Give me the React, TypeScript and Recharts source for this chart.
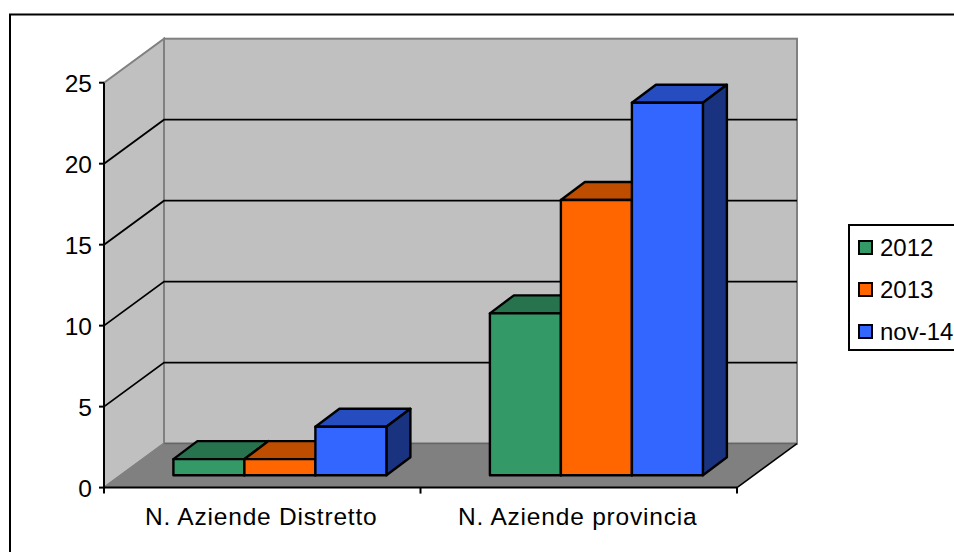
import { BarChart, Bar, XAxis, YAxis, CartesianGrid, Legend } from 'recharts';

const CATEGORIES = ['N. Aziende Distretto', 'N. Aziende provincia'];
const VALUES_2012 = [1, 10];
const VALUES_2013 = [1, 17];
const VALUES_NOV14 = [3, 23];
const Y_TICKS = [0, 5, 10, 15, 20, 25];

const chartData = CATEGORIES.map((name, i) => ({
  name,
  a2012: VALUES_2012[i],
  a2013: VALUES_2013[i],
  nov14: VALUES_NOV14[i],
}));

// ── Layout of the fake 3D box ────────────────────────────────────────────
const W = 954;
const H = 552;
const LEFT = 104;
const RIGHT = 737;
const TOP = 82.7;
const BOTTOM = 487.6;
const DEPTH_X = 60;
const DEPTH_Y = -44;
// bars stand a bit inside the floor, and have their own depth
const BAR_DX = 17.4;
const BAR_DY = -12.3;
const BAR_DEPTH_X = 24;
const BAR_DEPTH_Y = -18;
const FONT = '"Liberation Sans", Arial, sans-serif';

function shade(hex: string, k: number) {
  const n = parseInt(hex.slice(1), 16);
  const c = [(n >> 16) & 255, (n >> 8) & 255, n & 255].map(v => Math.round(v * k));
  return `rgb(${c[0]},${c[1]},${c[2]})`;
}

function Bar3D(props: any) {
  const { x, y, width, height, fill } = props;
  const l = x + BAR_DX;
  const r = l + width;
  const t = y + BAR_DY;
  const b = t + height;
  const common = { stroke: '#000', strokeWidth: 2.4, strokeLinejoin: 'round' as const };
  return (
    <g>
      <polygon
        points={`${l},${t} ${r},${t} ${r + BAR_DEPTH_X},${t + BAR_DEPTH_Y} ${l + BAR_DEPTH_X},${t + BAR_DEPTH_Y}`}
        fill={shade(fill, 0.75)}
        {...common}
      />
      <polygon
        points={`${r},${t} ${r + BAR_DEPTH_X},${t + BAR_DEPTH_Y} ${r + BAR_DEPTH_X},${b + BAR_DEPTH_Y} ${r},${b}`}
        fill={shade(fill, 0.5)}
        {...common}
      />
      <rect x={l} y={t} width={width} height={height} fill={fill} {...common} />
    </g>
  );
}

// Frame, walls and floor: a plain svg behind the chart, the grid draws on top of it
function Box() {
  const backL = LEFT + DEPTH_X;
  const backR = RIGHT + DEPTH_X;
  const backT = TOP + DEPTH_Y;
  const backB = BOTTOM + DEPTH_Y;
  return (
    <svg width={W} height={H} style={{ position: 'absolute', left: 0, top: 0 }}>
      <rect x={10} y={14.5} width={W + 40} height={H + 40} fill="#fff" stroke="#000" strokeWidth={2} />
      <rect x={backL} y={backT} width={RIGHT - LEFT} height={BOTTOM - TOP} fill="#C0C0C0" stroke="#808080" strokeWidth={2} />
      <polygon
        points={`${LEFT},${TOP} ${backL},${backT} ${backL},${backB} ${LEFT},${BOTTOM}`}
        fill="#C0C0C0"
        stroke="#808080"
        strokeWidth={2}
      />
      <polygon points={`${LEFT},${BOTTOM} ${backL},${backB} ${backR},${backB} ${RIGHT},${BOTTOM}`} fill="#808080" />
      <line x1={backL} y1={backB} x2={backR} y2={backB} stroke="#666" strokeWidth={1.5} />
      <line x1={LEFT} y1={BOTTOM} x2={backL} y2={backB} stroke="#808080" strokeWidth={1.5} />
      <line x1={RIGHT} y1={BOTTOM} x2={backR} y2={backB} stroke="#000" strokeWidth={1.5} />
    </svg>
  );
}

// Each grid line runs along the side wall, then across the back wall
function GridLine(props: any) {
  const { y1 } = props;
  if (Math.abs(y1 - TOP) < 1 || Math.abs(y1 - BOTTOM) < 1) return <g key={props.key} />;
  const bx = LEFT + DEPTH_X;
  const by = y1 + DEPTH_Y;
  return (
    <polyline
      key={props.key}
      points={`${LEFT},${y1} ${bx},${by} ${RIGHT + DEPTH_X},${by}`}
      fill="none"
      stroke="#000"
      strokeWidth={1.8}
    />
  );
}

// Tick marks sit on the band edges, not under the labels
function CategoryTick(props: any) {
  const { x, index, payload } = props;
  const band = (RIGHT - LEFT) / CATEGORIES.length;
  const left = x - band / 2;
  return (
    <g>
      <line x1={left} y1={BOTTOM} x2={left} y2={BOTTOM + 6} stroke="#000" strokeWidth={2} />
      {index === CATEGORIES.length - 1 && (
        <line x1={x + band / 2} y1={BOTTOM} x2={x + band / 2} y2={BOTTOM + 6} stroke="#000" strokeWidth={2} />
      )}
      <text x={x - 1} y={525} textAnchor="middle" fontFamily={FONT} fontSize={24.5} letterSpacing={0.8} fill="#000">
        {payload.value}
      </text>
    </g>
  );
}

function LegendBox({ payload }: any) {
  return (
    <div
      style={{
        width: 130,
        height: 127,
        boxSizing: 'border-box',
        border: '2px solid #000',
        background: '#fff',
        position: 'relative',
        fontFamily: FONT,
        fontSize: 24,
        color: '#000',
      }}
    >
      {(payload || []).map((p: any, i: number) => (
        <div key={p.value} style={{ position: 'absolute', left: 8, top: 14 + i * 42, height: 15, display: 'flex', alignItems: 'center' }}>
          <span style={{ width: 15, height: 15, boxSizing: 'border-box', border: '2px solid #000', background: p.color, marginRight: 7, flex: 'none' }} />
          <span style={{ lineHeight: '15px', whiteSpace: 'nowrap' }}>{p.value}</span>
        </div>
      ))}
    </div>
  );
}

export default function App() {
  return (
    <div style={{ position: 'absolute', left: 0, top: 0, width: W, height: H, overflow: 'hidden', background: '#fff' }}>
      <Box />
      <BarChart
        width={W}
        height={H}
        data={chartData}
        margin={{ top: TOP, right: W - RIGHT, bottom: 0, left: 0 }}
        barSize={71}
        barGap={0}
      >
        <CartesianGrid vertical={false} horizontal={GridLine as any} />
        <XAxis
          dataKey="name"
          height={H - BOTTOM}
          axisLine={{ stroke: '#000', strokeWidth: 2 }}
          tickLine={false}
          tick={CategoryTick as any}
          interval={0}
        />
        <YAxis
          width={LEFT}
          domain={[0, 25]}
          ticks={Y_TICKS}
          axisLine={{ stroke: '#000', strokeWidth: 2 }}
          tickLine={{ stroke: '#000', strokeWidth: 2 }}
          tickSize={5}
          tickMargin={7}
          tick={{ fill: '#000', fontSize: 24.5, fontFamily: FONT, dy: 1 }}
        />
        <Bar dataKey="a2012" name="2012" fill="#339966" shape={Bar3D as any} isAnimationActive={false} />
        <Bar dataKey="a2013" name="2013" fill="#FF6600" shape={Bar3D as any} isAnimationActive={false} />
        <Bar dataKey="nov14" name="nov-14" fill="#3366FF" shape={Bar3D as any} isAnimationActive={false} />
        <Legend
          layout="horizontal"
          verticalAlign="middle"
          align="center"
          content={LegendBox as any}
          wrapperStyle={{ left: 848, top: 224, width: 130, height: 127 }}
        />
      </BarChart>
    </div>
  );
}
